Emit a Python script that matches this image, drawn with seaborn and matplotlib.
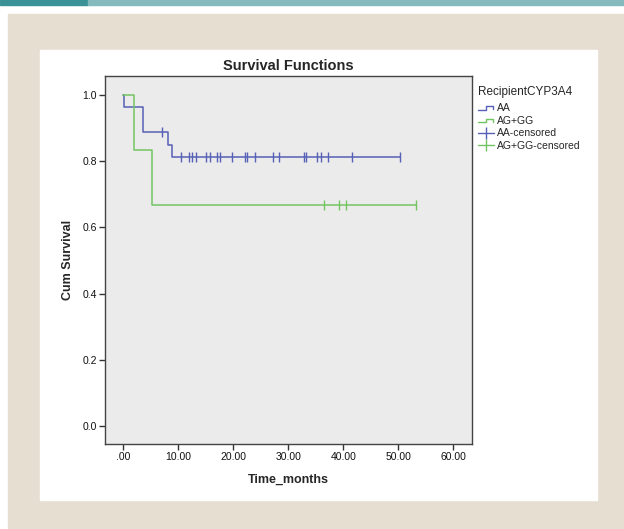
import numpy as np
import pandas as pd
import matplotlib
matplotlib.use("Agg")
import matplotlib.pyplot as plt
import seaborn as sns
from matplotlib.lines import Line2D
from matplotlib.patches import Rectangle
from matplotlib.legend_handler import HandlerBase

# Kaplan-Meier step curves (time in months, cumulative survival)
aa_time = [0.0, 0.2, 3.6, 3.6, 8.2, 8.9, 50.3]
aa_surv = [1.0, 0.963, 0.926, 0.889, 0.850, 0.812, 0.812]
ag_time = [0.0, 2.0, 5.3, 53.2]
ag_surv = [1.0, 0.833, 0.667, 0.667]

# censored observations
aa_cens_time = [7.0, 10.5, 11.9, 12.5, 13.2, 15.0, 15.8, 17.0, 17.6, 19.7, 22.1,
                22.4, 24.0, 27.2, 28.3, 32.9, 33.2, 35.2, 35.9, 37.2, 41.5, 50.3]
aa_cens_surv = [0.889] + [0.812] * 21
ag_cens_time = [36.4, 39.2, 40.4, 53.2]
ag_cens_surv = [0.667] * 4

groups = ["AA", "AG+GG"]
x_ticks = [0, 10, 20, 30, 40, 50, 60]
x_tick_labels = [".00", "10.00", "20.00", "30.00", "40.00", "50.00", "60.00"]
y_ticks = [0.0, 0.2, 0.4, 0.6, 0.8, 1.0]

blue = "#5560b6"
green = "#72c462"

sns.set_style("white")
plt.rcParams["font.family"] = ["Liberation Sans", "DejaVu Sans"]

fig = plt.figure(figsize=(6.24, 5.29), dpi=100)
fig.patch.set_facecolor("white")

# page decoration: teal strip, beige frame, white panel
deco = [((0, 1 - 4.5 / 529), 88 / 624, 4.5 / 529, "#3a9297"),
        ((88 / 624, 1 - 4.5 / 529), 1, 4.5 / 529, "#84b9bd"),
        ((8 / 624, 0), 1, 1 - 14 / 529, "#e5ded1"),
        ((40 / 624, 29 / 529), 557 / 624, 450 / 529, "white")]
for i, (xy, w, h, c) in enumerate(deco):
    fig.patches.append(Rectangle(xy, w, h, transform=fig.transFigure, color=c, zorder=-10 + i))

ax = fig.add_axes([105 / 624, 85 / 529, 367 / 624, 368 / 529])
ax.set_zorder(1)
ax.set_facecolor("#ebebeb")

aa_df = pd.DataFrame({"t": aa_time, "s": aa_surv})
ag_df = pd.DataFrame({"t": ag_time, "s": ag_surv})
sns.lineplot(data=aa_df, x="t", y="s", ax=ax, color=blue, lw=1.1, drawstyle="steps-post",
             estimator=None, sort=False)
sns.lineplot(data=ag_df, x="t", y="s", ax=ax, color=green, lw=1.1, drawstyle="steps-post",
             estimator=None, sort=False)

aa_c = pd.DataFrame({"t": aa_cens_time, "s": aa_cens_surv})
ag_c = pd.DataFrame({"t": ag_cens_time, "s": ag_cens_surv})
sns.scatterplot(data=aa_c, x="t", y="s", ax=ax, marker="|", s=45, color=blue, linewidth=1.0)
sns.scatterplot(data=ag_c, x="t", y="s", ax=ax, marker="|", s=45, color=green, linewidth=1.0)

ax.set_xlim(-3.33, 63.4)
ax.set_ylim(-0.054, 1.057)
ax.set_xticks(x_ticks)
ax.set_xticklabels(x_tick_labels)
ax.set_yticks(y_ticks)
ax.set_yticklabels([f"{v:.1f}" for v in y_ticks])
ax.tick_params(axis="both", labelsize=7.5, length=4, width=1, color="#333333", pad=2,
               left=True, bottom=True, labelcolor="#111111")
for sp in ax.spines.values():
    sp.set_color("#444444")
    sp.set_linewidth(1.0)

ax.set_xlabel("Time_months", fontsize=9, fontweight="bold", labelpad=8)
ax.set_ylabel("Cum Survival", fontsize=9, fontweight="bold", labelpad=6)
ax.set_title("Survival Functions", fontsize=10.5, fontweight="bold", pad=4)


class StepHandler(HandlerBase):
    def create_artists(self, legend, orig_handle, xdescent, ydescent, width, height, fontsize, trans):
        x0 = -xdescent
        y0 = -ydescent + height * 0.2
        y1 = -ydescent + height * 0.7
        xs = [x0, x0 + width * 0.5, x0 + width * 0.5, x0 + width * 0.95, x0 + width * 0.95]
        ys = [y0, y0, y1, y1, y0 + height * 0.1]
        ln = Line2D(xs, ys, color=orig_handle.get_color(), lw=1.0, transform=trans)
        return [ln]


h_aa = Line2D([], [], color=blue)
h_ag = Line2D([], [], color=green)
h_aac = Line2D([], [], color=blue, lw=1.0, marker="|", markersize=8, markeredgewidth=1.0)
h_agc = Line2D([], [], color=green, lw=1.0, marker="|", markersize=8, markeredgewidth=1.0)

leg = ax.legend([h_aa, h_ag, h_aac, h_agc],
                [groups[0], groups[1], groups[0] + "-censored", groups[1] + "-censored"],
                handler_map={h_aa: StepHandler(), h_ag: StepHandler()},
                title="RecipientCYP3A4", loc="upper left", bbox_to_anchor=(1.004, 0.985),
                frameon=False, fontsize=7.5, title_fontsize=8.5, handlelength=1.6,
                handletextpad=0.3, labelspacing=0.25, borderpad=0, borderaxespad=0.4)
leg._legend_box.align = "left"
leg._legend_box.sep = 4

fig.savefig("out.png", dpi=100)
